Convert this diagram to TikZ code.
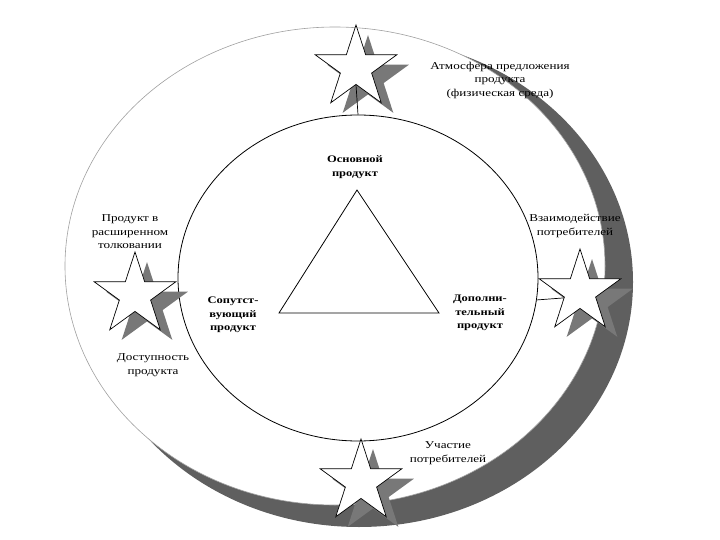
\documentclass[tikz,border=0pt]{standalone}
\usepackage{fontspec}
\setmainfont{Liberation Serif}[FakeStretch=1.25]
\usetikzlibrary{shapes.geometric, positioning}
\definecolor{smudge}{RGB}{95, 95, 95}
\definecolor{shade}{RGB}{120, 120, 120}
\definecolor{rim}{RGB}{160, 160, 160}

\begin{document}
\begin{tikzpicture}[x=1pt, y=-1pt,
    lbl/.style={align=center, font={\fontsize{10.5}{13.5}\selectfont}},
    core lbl/.style={align=center, font={\fontsize{10}{13.5}\selectfont\bfseries}},
    star node/.style={star, star points=5, star point ratio=2.618,
      minimum size=86pt, inner sep=0pt, draw=black, fill=white, line width=0.7pt},
    star shadow/.style={star, star points=5, star point ratio=2.618,
      minimum size=86pt, inner sep=0pt, fill=shade}]

  \useasboundingbox (0, 0) rectangle (720, 540);

  % outer ring: dark crescent, then the white ring face on top of it
  \fill[smudge] (359, 282) ellipse [x radius=274pt, y radius=245pt];
  \draw[rim, fill=white, line width=0.6pt] (335, 266) ellipse [x radius=270pt, y radius=239pt];

  \node[ellipse, draw, line width=0.8pt, minimum width=360pt,
    minimum height=326pt, inner sep=0pt] (core) at (358, 278) {};

  \coordinate (apex) at (357, 190);
  \coordinate (bl) at (279, 313);
  \coordinate (br) at (439, 313);
  \draw[line width=0.8pt] (apex) -- (bl) -- (br) -- cycle;

  \node[core lbl] (main) at (355, 167) {Основной\\продукт};
  \node[core lbl] (assoc) at (233, 315) {Сопутст-\\вующий\\продукт};
  \node[core lbl] (extra) at (480, 313) {Дополни-\\тельный\\продукт};

  \node[lbl] (atm lbl) at (500, 80) {Атмосфера предложения\\продукта\\(физическая среда)};
  \node[lbl] (wide lbl) at (130, 232) {Продукт в\\расширенном\\толковании};
  \node[lbl] (acc lbl) at (153, 365) {Доступность\\продукта};
  \node[lbl] (int lbl) at (575, 226) {Взаимодействие\\потребителей};
  \node[lbl] (part lbl) at (448, 453) {Участие\\потребителей};

  % stars with their shadows
  \foreach \n/\x/\y in {satm/356/68, swide/135/295, sint/580/292, spart/361/482} {
    \node[star shadow] at (\x+12, \y+10) {};
    \node[star node] (\n) at (\x, \y) {};
  }

  \draw[line width=0.7pt] (satm.south) -- (core.north);
  \draw[line width=0.7pt] (core.-7) -- (sint.200);

\end{tikzpicture}
\end{document}
